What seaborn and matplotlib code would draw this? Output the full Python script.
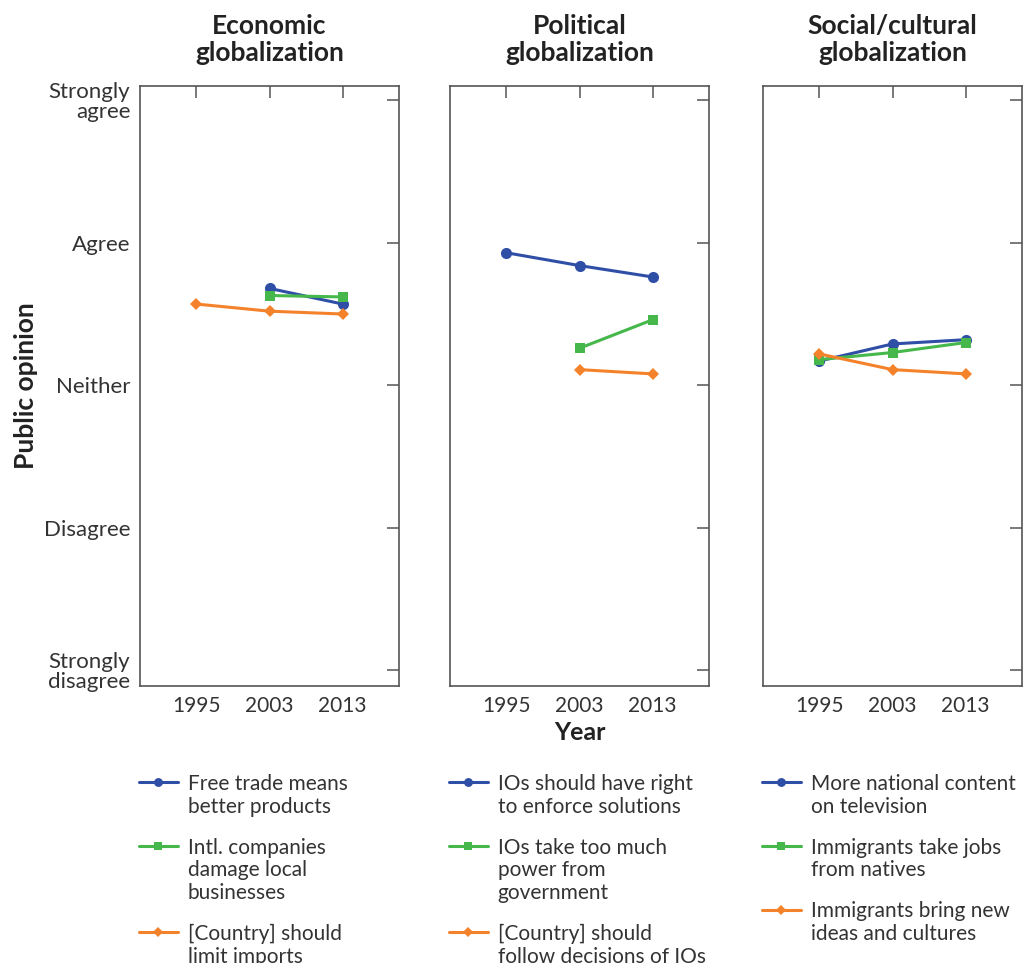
import numpy as np
import pandas as pd
import matplotlib
matplotlib.use("Agg")
import matplotlib.pyplot as plt
import seaborn as sns

# ==========================
# data (1 = strongly disagree ... 5 = strongly agree)
# ==========================
years = ["1995", "2003", "2013"]
panel_titles = ["Economic\nglobalization", "Political\nglobalization", "Social/cultural\nglobalization"]
opinion_labels = ["Strongly\ndisagree", "Disagree", "Neither", "Agree", "Strongly\nagree"]

econ_labels = ["Free trade means\nbetter products",
               "Intl. companies\ndamage local\nbusinesses",
               "[Country] should\nlimit imports"]
econ_blue = [np.nan, 3.68, 3.57]
econ_green = [np.nan, 3.63, 3.62]
econ_orange = [3.57, 3.52, 3.50]

pol_labels = ["IOs should have right\nto enforce solutions",
              "IOs take too much\npower from\ngovernment",
              "[Country] should\nfollow decisions of IOs"]
pol_blue = [3.93, 3.84, 3.76]
pol_green = [np.nan, 3.26, 3.46]
pol_orange = [np.nan, 3.11, 3.08]

soc_labels = ["More national content\non television",
              "Immigrants take jobs\nfrom natives",
              "Immigrants bring new\nideas and cultures"]
soc_blue = [3.17, 3.29, 3.32]
soc_green = [3.18, 3.23, 3.30]
soc_orange = [3.22, 3.11, 3.08]

panels = [
    (econ_labels, [econ_blue, econ_green, econ_orange]),
    (pol_labels, [pol_blue, pol_green, pol_orange]),
    (soc_labels, [soc_blue, soc_green, soc_orange]),
]

colors = ["#2f4ea6", "#45b74b", "#f4822b"]
markers = ["o", "s", "D"]
msizes = [8, 7, 6.5]

sns.set_style("white")
plt.rcParams["font.family"] = ["Lato", "DejaVu Sans"]
axis_grey = "#555555"
text_grey = "#333333"

fig = plt.figure(figsize=(10.25, 9.63), dpi=100)
W, H = 1025, 963
lefts = [140, 450, 763]
top, bottom = 86, 686
width = 259

for i, (labels, series) in enumerate(panels):
    ax = fig.add_axes([lefts[i] / W, 1 - bottom / H, width / W, (bottom - top) / H])
    for j, vals in enumerate(series):
        df = pd.DataFrame({"pos": np.arange(len(years)), "value": vals}).dropna()
        sns.lineplot(data=df, x="pos", y="value", ax=ax, color=colors[j],
                     marker=markers[j], markersize=msizes[j], markeredgewidth=0,
                     linewidth=2.2, label=labels[j])
    ax.set_xlim(-0.77, 2.77)
    ax.set_ylim(0.89, 5.1)
    ax.set_xticks(range(len(years)))
    ax.set_xticklabels(years)
    ax.set_yticks(range(1, 6))
    if i == 0:
        ax.set_yticklabels(opinion_labels, ha="right", linespacing=1.0, fontsize=16)
        ax.set_ylabel("Public opinion", fontsize=19, fontweight="bold", labelpad=4,
                      color="#222222")
    else:
        ax.set_yticklabels([])
        ax.set_ylabel("")
    ax.set_xlabel("Year" if i == 1 else "", fontsize=18, fontweight="bold", labelpad=4,
                  color="#222222")
    ax.set_title(panel_titles[i], fontsize=19, fontweight="bold", pad=18,
                 linespacing=1.15, color="#222222")
    ax.tick_params(direction="in", top=True, right=True, length=8.5, width=1.1,
                   color=axis_grey, labelcolor=text_grey, pad=7)
    ax.tick_params(axis="x", labelsize=15)
    for sp in ax.spines.values():
        sp.set_color(axis_grey)
        sp.set_linewidth(1.2)

    leg = ax.legend(loc="upper left", bbox_to_anchor=(-0.005, -0.147), frameon=False,
                    borderaxespad=0, borderpad=0, fontsize=15, handlelength=1.9,
                    handleheight=1.0, handletextpad=0.45, labelspacing=1.0,
                    markerscale=0.8)
    for col in leg._legend_handle_box.get_children():
        for item in col.get_children():
            item.align = "top"
    for t in leg.get_texts():
        t.set_color(text_grey)
        t.set_linespacing(1.17)

fig.savefig("out.png", dpi=100)
